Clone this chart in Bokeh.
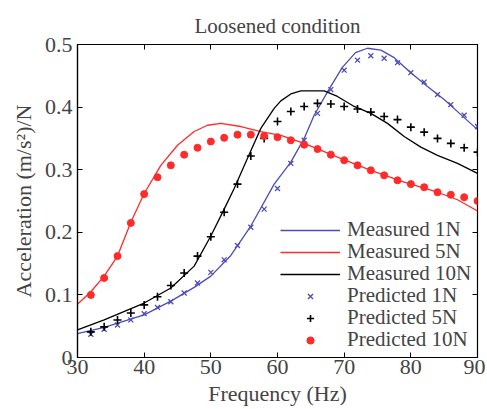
from bokeh.plotting import figure
from bokeh.models import LinearAxis, Legend, LegendItem, FixedTicker
from bokeh.embed import file_html
from bokeh.resources import INLINE

# Measured curves
m1_f = [30, 34, 40, 44, 47.5, 50, 53, 56, 59.5, 62, 64, 65.5, 67.7, 69.7, 71.7, 73.5, 75.5, 77.5, 80, 82.5, 85, 87.5, 90]
m1_a = [0.038, 0.048, 0.068, 0.09, 0.112, 0.13, 0.163, 0.21, 0.277, 0.312, 0.35, 0.387, 0.428, 0.463, 0.487, 0.494, 0.491, 0.479, 0.455, 0.433, 0.412, 0.388, 0.364]

m5_f = [30, 32, 34, 36, 38, 40, 42.5, 45, 47.5, 49.5, 51.5, 54.5, 57.5, 60.5, 64, 69, 74, 79, 84, 87, 90]
m5_a = [0.085, 0.105, 0.13, 0.162, 0.216, 0.262, 0.307, 0.339, 0.361, 0.371, 0.374, 0.369, 0.361, 0.355, 0.342, 0.32, 0.299, 0.28, 0.264, 0.252, 0.234]

m10_f = [30, 34, 40, 44, 47.5, 50, 52, 53.5, 55.7, 57.5, 59.5, 60.5, 62, 63.5, 67, 69, 71.5, 74, 76.5, 79, 81.5, 84, 87, 90]
m10_a = [0.044, 0.06, 0.087, 0.111, 0.146, 0.194, 0.237, 0.27, 0.323, 0.366, 0.398, 0.41, 0.421, 0.426, 0.426, 0.417, 0.401, 0.39, 0.374, 0.353, 0.336, 0.323, 0.31, 0.294]

# Predicted points
p_f = [32, 34, 36, 38, 40, 42, 44, 46, 48, 50, 52, 54, 56, 58, 60, 62, 64, 66, 68, 70, 72, 74, 76, 78, 80, 82, 84, 86, 88, 90]
p1_a = [0.037, 0.045, 0.052, 0.06, 0.07, 0.08, 0.089, 0.103, 0.119, 0.136, 0.156, 0.179, 0.208, 0.237, 0.27,
        0.31, 0.347, 0.39, 0.428, 0.459, 0.475, 0.482, 0.478, 0.471, 0.455, 0.44, 0.42, 0.404, 0.387, 0.369]
p5_a = [0.041, 0.049, 0.06, 0.071, 0.084, 0.097, 0.115, 0.135, 0.162, 0.193, 0.232, 0.277, 0.322, 0.35, 0.377,
        0.393, 0.401, 0.406, 0.405, 0.401, 0.397, 0.392, 0.385, 0.38, 0.368, 0.36, 0.35, 0.342, 0.335, 0.328]
p10_a = [0.1, 0.127, 0.162, 0.215, 0.261, 0.288, 0.307, 0.324, 0.335, 0.345, 0.351, 0.356, 0.356, 0.354, 0.352,
         0.347, 0.34, 0.333, 0.324, 0.315, 0.307, 0.299, 0.291, 0.283, 0.277, 0.272, 0.264, 0.26, 0.256, 0.25]

labels = ["Measured 1N", "Measured 5N", "Measured 10N", "Predicted 1N", "Predicted 5N", "Predicted 10N"]

x_ticks = [30, 40, 50, 60, 70, 80, 90]
y_ticks = [0, 0.1, 0.2, 0.3, 0.4, 0.5]
y_tick_labels = {0: "0", 0.1: "0.1", 0.2: "0.2", 0.3: "0.3", 0.4: "0.4", 0.5: "0.5"}

BLUE = "#4c4cb8"
RED = "#ff2a2a"
FONT = "'Liberation Serif', 'Times New Roman', serif"

p = figure(width=485, height=409, x_range=(30, 90), y_range=(0, 0.5),
           output_backend="svg", toolbar_location=None,
           min_border_left=77, min_border_right=8, min_border_top=44, min_border_bottom=52)
p.xgrid.visible = False
p.ygrid.visible = False
p.outline_line_color = "black"
p.outline_line_width = 1.2

p.title.text = "Loosened condition"
p.title.align = "center"
p.title.text_font = FONT
p.title.text_font_size = "21px"
p.title.text_font_style = "normal"
p.title.standoff = 13

for ax in (p.xaxis[0], p.yaxis[0]):
    ax.major_tick_in = 5
    ax.major_tick_out = 0
    ax.minor_tick_in = 0
    ax.minor_tick_out = 0
    ax.major_label_text_font = FONT
    ax.major_label_text_font_size = "22px"
    ax.axis_label_text_font = FONT
    ax.axis_label_text_font_size = "22px"
    ax.axis_label_text_font_style = "normal"
    ax.axis_line_width = 1.2

p.xaxis[0].ticker = FixedTicker(ticks=x_ticks)
p.yaxis[0].ticker = FixedTicker(ticks=y_ticks)
p.yaxis[0].major_label_overrides = y_tick_labels
p.xaxis[0].axis_label = "Frequency (Hz)"
p.yaxis[0].axis_label = "Acceleration (m/s²)/N"
p.xaxis[0].major_label_standoff = 2
p.yaxis[0].major_label_standoff = 5
p.xaxis[0].axis_label_standoff = 4
p.yaxis[0].axis_label_standoff = 6

top = LinearAxis(ticker=FixedTicker(ticks=x_ticks), major_tick_in=5, major_tick_out=0,
                 minor_tick_in=0, minor_tick_out=0, major_label_text_color=None,
                 axis_line_color=None, major_label_standoff=0)
right = LinearAxis(ticker=FixedTicker(ticks=y_ticks), major_tick_in=5, major_tick_out=0,
                   minor_tick_in=0, minor_tick_out=0, major_label_text_color=None,
                   axis_line_color=None, major_label_standoff=0)
p.add_layout(top, "above")
p.add_layout(right, "right")

r1 = p.line(m1_f, m1_a, line_color=BLUE, line_width=1.3)
r5 = p.line(m5_f, m5_a, line_color=RED, line_width=1.3)
r10 = p.line(m10_f, m10_a, line_color="black", line_width=1.3)
s1 = p.scatter(p_f, p1_a, marker="x", size=7, line_color=BLUE, line_width=1.3)
s5 = p.scatter(p_f, p5_a, marker="cross", size=8, line_color="black", line_width=1.6)
s10 = p.scatter(p_f, p10_a, marker="circle", size=7, fill_color=RED, line_color=RED)

# one single-row legend per entry, stacked with the reference's tight row pitch
renderers = [r1, r5, r10, s1, s5, s10]
offsets = [115, 93, 71, 49, 27, 5]
for lab, rend, off in zip(labels, renderers, offsets):
    lg = Legend(items=[LegendItem(label=lab, renderers=[rend])],
                location=(203, off), border_line_color=None, background_fill_alpha=0,
                label_text_font=FONT, label_text_font_size="21px",
                glyph_width=60, glyph_height=18, label_height=18, spacing=0,
                padding=0, margin=0, label_standoff=7)
    p.add_layout(lg)

open("out.html", "w").write(file_html(p, INLINE))
